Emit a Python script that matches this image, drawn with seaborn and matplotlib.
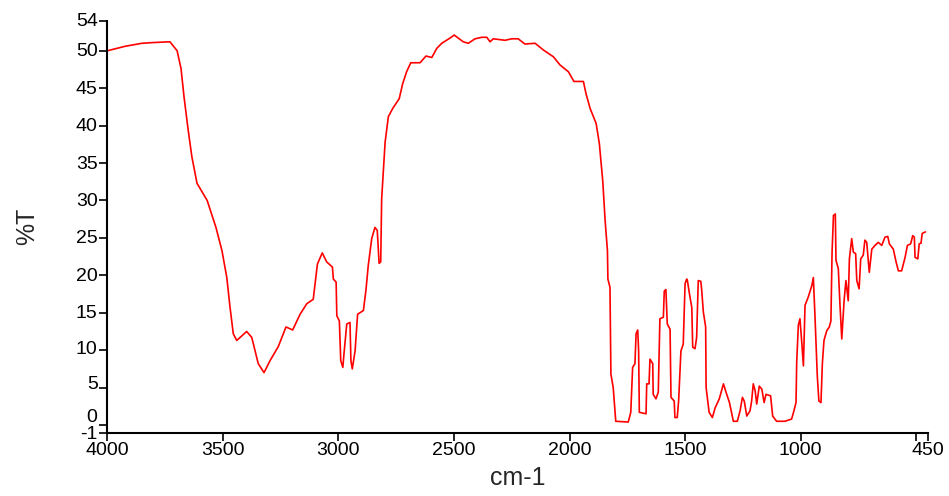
import matplotlib
matplotlib.use("Agg")
import matplotlib.pyplot as plt
import matplotlib.transforms as mtransforms
import pandas as pd
import seaborn as sns

# IR spectrum (wavenumber in cm-1, transmittance in %T)
wavenumber = [
    4000, 3923, 3850, 3800, 3729, 3698, 3681, 3668, 3651, 3634, 3612, 3568, 3530,
    3504, 3483, 3469, 3455, 3440, 3397, 3375, 3347, 3322, 3296, 3260, 3227, 3198,
    3166, 3137, 3109, 3101, 3091, 3070, 3051, 3026, 3022, 3010, 3007, 2996, 2990,
    2981, 2976, 2964, 2950, 2946, 2940, 2928, 2917, 2892, 2881, 2871, 2856, 2842,
    2832, 2824, 2817, 2813, 2798, 2784, 2765, 2737, 2722, 2705, 2687, 2647, 2621,
    2596, 2575, 2553, 2517, 2499, 2460, 2438, 2409, 2380, 2358, 2344, 2330, 2279,
    2250, 2222, 2193, 2149, 2113, 2070, 2041, 2005, 1981, 1940, 1929, 1911, 1885,
    1871, 1856, 1846, 1836, 1834, 1825, 1821, 1811, 1800, 1746, 1735, 1727, 1717,
    1712, 1705, 1701, 1698, 1669, 1666, 1656, 1652, 1640, 1638, 1626, 1616, 1609,
    1594, 1590, 1583, 1577, 1565, 1561, 1547, 1544, 1534, 1528, 1518, 1508, 1500,
    1493, 1490, 1482, 1471, 1467, 1457, 1450, 1443, 1432, 1428, 1421, 1411, 1409,
    1396, 1382, 1370, 1352, 1334, 1323, 1308, 1291, 1274, 1262, 1252, 1244, 1233,
    1219, 1212, 1205, 1197, 1190, 1179, 1168, 1158, 1150, 1130, 1121, 1104, 1068,
    1039, 1029, 1020, 1017, 1010, 1003, 995, 988, 981, 967, 952, 945, 938, 928,
    921, 912, 906, 899, 887, 876, 869, 864, 858, 850, 847, 837, 830, 822, 812,
    804, 794, 789, 779, 772, 762, 757, 747, 740, 729, 722, 714, 707, 703, 692,
    678, 664, 649, 635, 623, 616, 599, 587, 577, 563, 548, 538, 524, 515, 508,
    505, 493, 487, 479, 474, 460,
]
transmittance = [
    50.0, 50.6, 51.0, 51.1, 51.2, 50.0, 47.6, 43.8, 39.6, 35.8, 32.3, 30.0, 26.4,
    23.3, 19.7, 15.7, 12.2, 11.3, 12.5, 11.7, 8.2, 7.0, 8.6, 10.5, 13.1, 12.7,
    14.8, 16.2, 16.8, 18.9, 21.5, 23.0, 21.8, 21.1, 19.5, 19.1, 14.6, 13.9, 8.6,
    7.7, 9.5, 13.5, 13.7, 8.6, 7.5, 9.9, 14.8, 15.3, 18.0, 21.3, 24.9, 26.4,
    26.0, 21.6, 21.8, 30.2, 37.8, 41.2, 42.3, 43.6, 45.6, 47.2, 48.4, 48.4, 49.3,
    49.1, 50.3, 51.0, 51.7, 52.1, 51.2, 51.0, 51.6, 51.8, 51.8, 51.2, 51.6, 51.4,
    51.6, 51.6, 50.9, 51.0, 50.1, 49.2, 48.1, 47.2, 45.9, 45.9, 44.3, 42.3, 40.3,
    37.6, 32.5, 27.3, 23.3, 19.5, 18.4, 6.8, 5.0, 0.5, 0.4, 1.7, 7.7, 8.2,
    12.2, 12.7, 9.9, 1.7, 1.5, 5.5, 5.5, 8.8, 8.2, 4.1, 3.5, 4.4, 14.2,
    14.4, 17.9, 18.1, 13.5, 12.8, 3.7, 3.2, 1.0, 1.0, 3.2, 9.9, 10.8, 18.9,
    19.5, 19.3, 17.7, 15.7, 10.4, 10.2, 11.7, 19.3, 19.2, 18.0, 15.1, 13.1, 5.0,
    1.7, 1.0, 2.3, 3.5, 5.5, 4.4, 3.0, 0.5, 0.5, 1.9, 3.7, 3.2, 1.2,
    1.9, 3.2, 5.5, 4.6, 2.8, 5.2, 4.8, 3.0, 4.1, 3.9, 1.2, 0.5, 0.5,
    0.8, 1.9, 3.0, 8.4, 13.3, 14.2, 11.0, 7.9, 16.0, 17.1, 18.6, 19.7, 14.6, 6.6,
    3.2, 3.0, 8.2, 11.3, 12.6, 13.1, 13.9, 23.1, 28.0, 28.2, 22.0, 20.9, 16.2, 11.5, 16.6,
    19.3, 16.6, 22.2, 24.9, 23.1, 22.9, 19.3, 18.2, 22.2, 22.7, 24.7, 24.4, 21.8, 20.4, 23.5,
    24.0, 24.4, 24.0, 25.1, 25.2, 24.2, 23.5, 21.8, 20.6, 20.6, 22.4, 24.0, 24.2, 25.3, 25.1,
    22.4, 22.2, 24.2, 24.3, 25.6, 25.8,
]

x_ticks = [4000, 3500, 3000, 2500, 2000, 1500, 1000, 500, 450]
x_tick_labels = ["4000", "3500", "3000", "2500", "2000", "1500", "1000", "", "450"]
y_ticks = [-1, 0, 5, 10, 15, 20, 25, 30, 35, 40, 45, 50, 54]

df = pd.DataFrame({"wavenumber": wavenumber, "T": transmittance})

sns.set_style("ticks")
plt.rcParams["font.family"] = ["Liberation Sans", "DejaVu Sans"]

fig = plt.figure(figsize=(9.49, 4.96), dpi=100, facecolor="white")
ax = fig.add_axes([0.1131, 0.128, 0.8645, 0.830])

sns.lineplot(data=df, x="wavenumber", y="T", sort=False, estimator=None,
             color="#ff0000", lw=1.2, ax=ax)

ax.set_xlim(4000, 450)
ax.set_ylim(-1, 54)
ax.set_xticks(x_ticks)
ax.set_xticklabels(x_tick_labels)
ax.set_yticks(y_ticks)
ax.set_yticklabels([str(t) for t in y_ticks])
ax.tick_params(axis="both", direction="out", length=6, width=1.2,
               colors="#000000", labelsize=14, pad=1)
for side in ("top", "right"):
    ax.spines[side].set_visible(False)
for side in ("left", "bottom"):
    ax.spines[side].set_color("#000000")
    ax.spines[side].set_linewidth(1.5)

# the low labels sit a little above their ticks so "0" clears "-1"
for lab, val in zip(ax.get_yticklabels(), y_ticks):
    shift = {0: 10, 5: 5, 10: 3}.get(val, 1 if val > 0 else 0)
    lab.set_transform(lab.get_transform() +
                      mtransforms.ScaledTranslation(0, shift / 100, fig.dpi_scale_trans))

ax.set_xlabel("cm-1", fontsize=18, labelpad=5)
ax.set_ylabel("%T", fontsize=18, labelpad=26)
ax.grid(False)

fig.savefig("out.png", dpi=100, facecolor="white")
